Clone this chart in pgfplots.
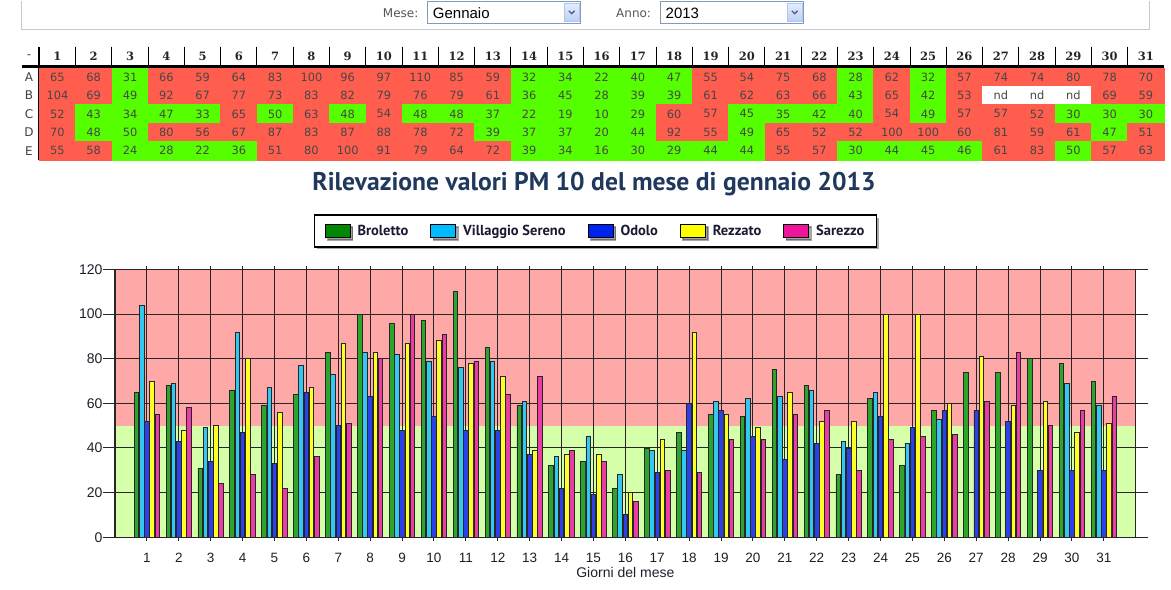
\documentclass[border=0pt]{standalone}
\usepackage{pgfplots}
\pgfplotsset{compat=1.18}
\usepackage{pgfplotstable}
\usepackage{fontspec}
\usetikzlibrary{shadows}
\setmainfont{DejaVu Sans}
\newfontfamily\libsans{Liberation Sans}
\newfontfamily\ptsans{PT Sans}
\newfontfamily\dvserif{DejaVu Serif}
\newcommand{\myfs}[1]{\fontsize{#1}{#1}\selectfont}

\definecolor{cellred}{RGB}{255,94,79}
\definecolor{cellgreen}{RGB}{85,255,0}
\definecolor{celltext}{RGB}{70,70,70}
\definecolor{zonered}{RGB}{255,168,168}
\definecolor{zonegreen}{RGB}{214,255,170}
\definecolor{barG}{RGB}{45,165,45}
\definecolor{barC}{RGB}{50,200,240}
\definecolor{barB}{RGB}{45,65,235}
\definecolor{barY}{RGB}{255,255,40}
\definecolor{barP}{RGB}{235,60,165}
\definecolor{legG}{RGB}{0,136,0}
\definecolor{legC}{RGB}{0,187,255}
\definecolor{legB}{RGB}{0,34,238}
\definecolor{legY}{RGB}{255,255,0}
\definecolor{legP}{RGB}{238,20,155}
\definecolor{titlecol}{RGB}{31,56,92}
\definecolor{legtext}{RGB}{25,25,50}
\definecolor{ticktext}{RGB}{30,30,45}
\definecolor{uigray}{RGB}{85,85,85}
\definecolor{ddborder}{RGB}{127,157,185}
\definecolor{btntop}{RGB}{228,237,255}
\definecolor{btnbot}{RGB}{188,207,245}
\definecolor{btnborder}{RGB}{178,198,235}
\definecolor{chev}{RGB}{77,97,133}
\definecolor{boxgray}{RGB}{200,200,200}

\pgfplotstableread{
d A B C D E cA cB cC cD cE
1 65 104 52 70 55 r r r r r
2 68 69 43 48 58 r r g g r
3 31 49 34 50 24 g g g g g
4 66 92 47 80 28 r r g r g
5 59 67 33 56 22 r r g r g
6 64 77 65 67 36 r r r r g
7 83 73 50 87 51 r r g r r
8 100 83 63 83 80 r r r r r
9 96 82 48 87 100 r r g r r
10 97 79 54 88 91 r r r r r
11 110 76 48 78 79 r r g r r
12 85 79 48 72 64 r r g r r
13 59 61 37 39 72 r r g g r
14 32 36 22 37 39 g g g g g
15 34 45 19 37 34 g g g g g
16 22 28 10 20 16 g g g g g
17 40 39 29 44 30 g g g g g
18 47 39 60 92 29 g g r r g
19 55 61 57 55 44 r r r r g
20 54 62 45 49 44 r r g g g
21 75 63 35 65 55 r r g r r
22 68 66 42 52 57 r r g r r
23 28 43 40 52 30 g g g r g
24 62 65 54 100 44 r r r r g
25 32 42 49 100 45 g g g r g
26 57 53 57 60 46 r r r r g
27 74 nan 57 81 61 r w r r r
28 74 nan 52 59 83 r w r r r
29 80 nan 30 61 50 r w g r g
30 78 69 30 47 57 r r g g r
31 70 59 30 51 63 r r g r r
}\pmdata

\newcommand{\cellrow}[2]{%
  \addplot[scatter, only marks, on layer=axis background, scatter src=explicit symbolic,
    mark size=9.25bp, mark options={xscale=1.975},
    scatter/classes={r={mark=square*, cellred}, g={mark=square*, cellgreen}, w={mark=square*, white}}]
    table[x=d, y expr=#2, meta=c#1] {\pmdata};
}
\pgfplotsset{celltxt/.style={only marks, mark=none, point meta=explicit symbolic, nodes near coords,
    every node near coord/.append style={anchor=center, inner sep=0pt, font=\myfs{11.4bp}, text=celltext}}}

\begin{document}
\begin{tikzpicture}
\path (0,0) rectangle (1171bp,-589bp);
% ---------- top selector bar ----------
\begin{scope}[x=1bp, y=1bp]
\draw[boxgray, line width=1bp] (21.5,0) -- (21.5,-29.3) -- (1149.5,-29.3) -- (1149.5,0);
\node[anchor=base west, inner sep=0pt, font=\myfs{12bp}, text=uigray] at (382.7,-17.3) {Mese:};
\draw[ddborder, fill=white, line width=1bp] (427.5,-1.5) rectangle (580.5,-22.5);
\shadedraw[top color=btntop, bottom color=btnbot, draw=btnborder, line width=0.8bp] (564.5,-2.7) rectangle (579,-21.2);
\draw[chev, line width=1.4bp] (568.8,-10.3) -- (571.7,-13.2) -- (574.6,-10.3);
\node[anchor=base west, inner sep=0pt, font=\libsans\myfs{15bp}] at (432.7,-17.5) {Gennaio};
\node[anchor=base west, inner sep=0pt, font=\myfs{12bp}, text=uigray] at (616,-17.3) {Anno:};
\draw[ddborder, fill=white, line width=1bp] (660.5,-1.5) rectangle (803.5,-22.5);
\shadedraw[top color=btntop, bottom color=btnbot, draw=btnborder, line width=0.8bp] (787.5,-2.7) rectangle (802,-21.2);
\draw[chev, line width=1.4bp] (791.8,-10.3) -- (794.7,-13.2) -- (797.6,-10.3);
\node[anchor=base west, inner sep=0pt, font=\libsans\myfs{15bp}] at (665.5,-17.5) {2013};
\end{scope}

% ---------- data table ----------
\begin{axis}[
  at={(22bp,-46bp)}, anchor=north west,
  scale only axis, width=1142bp, height=113.3bp,
  xmin=0.023, xmax=31.5, ymin=-0.673, ymax=5.5, y dir=reverse,
  set layers, clip=false,
  axis line style={draw=none},
  tick style={draw=none},
  xtick={1.5,2.5,...,30.5}, xticklabels={},
  ytick=\empty,
  xmajorgrids, major grid style={black, line width=1bp},
  extra x ticks={0.5}, extra x tick labels={},
  extra x tick style={grid=major, major grid style={black, line width=2.2bp}},
  extra y ticks={0.42}, extra y tick labels={},
  extra y tick style={grid=major, major grid style={black, line width=2.2bp}},
]
\cellrow{A}{1}
\cellrow{B}{2}
\cellrow{C}{3}
\cellrow{D}{4}
\cellrow{E}{5}
\addplot[celltxt] table[x=d, y expr=1, meta=A] {\pmdata};
\addplot[celltxt, skip coords between index={26}{29}] table[x=d, y expr=2, meta=B] {\pmdata};
\addplot[celltxt] table[x=d, y expr=3, meta=C] {\pmdata};
\addplot[celltxt] table[x=d, y expr=4, meta=D] {\pmdata};
\addplot[celltxt] table[x=d, y expr=5, meta=E] {\pmdata};
\addplot[celltxt] coordinates {(27,2) [nd] (28,2) [nd] (29,2) [nd]};
\addplot[celltxt, every node near coord/.append style={font=\dvserif\bfseries\myfs{11.5bp}, text=black!85}]
  table[x=d, y expr=-0.14, meta=d] {\pmdata};
\addplot[celltxt, every node near coord/.append style={font=\myfs{12bp}, text=black!75}]
  coordinates {(0.216,-0.14) [-] (0.216,1) [A] (0.216,2) [B] (0.216,3) [C] (0.216,4) [D] (0.216,5) [E]};
\end{axis}

% ---------- bar chart ----------
\begin{axis}[
  at={(115bp,-269bp)}, anchor=north west,
  scale only axis, width=1020.7bp, height=267.7bp,
  set layers,
  xmin=0, xmax=32, ymin=0, ymax=120,
  xtick={1,...,31}, ytick={0,20,...,120},
  xmajorgrids, ymajorgrids,
  major grid style={draw=black!85, line width=1bp},
  axis line style={draw=black!85, line width=1.2bp},
  tick align=outside,
  major tick length=12bp,
  xtick style={draw=black!85, line width=1bp, /pgfplots/major tick length=4bp},
  ytick style={draw=black!85, line width=1bp},
  /pgf/number format/assume math mode=true,
  ticklabel style={font=\libsans\myfs{14bp}, text=ticktext},
  yticklabel style={xshift=3bp},
  xticklabel style={font=\libsans\myfs{13.5bp}},
  xlabel={Giorni del mese},
  xlabel style={at={(axis description cs:0.5,-0.1307)}, anchor=center, font=\libsans\myfs{14bp}, text=ticktext},
  title={Rilevazione valori PM 10 del mese di gennaio 2013},
  title style={at={(axis description cs:0.4693,1.2724)}, anchor=base, yshift=0pt, font=\ptsans\bfseries\myfs{25.6bp}, text=titlecol},
  legend columns=5,
  legend image code/.code={\draw[line width=0.9bp,#1] (0bp,-6.5bp) rectangle (25bp,6.5bp);},
  legend style={at={(0.4708,1.1437)}, anchor=center, draw=black, line width=1.4bp, fill=white,
    font=\ptsans\bfseries\myfs{14.5bp}, text=legtext, inner xsep=10bp, inner ysep=8bp,
    /tikz/every odd column/.append style={column sep=5bp},
    /tikz/every even column/.append style={column sep=20bp},
    drop shadow={shadow xshift=2.5bp, shadow yshift=-2.5bp, fill=black, opacity=0.35}},
  legend cell align=left,
]
\addplot[on layer=axis background, fill=zonegreen, draw=none, forget plot] coordinates {(0,0) (32,0) (32,50) (0,50)};
\addplot[on layer=axis background, fill=zonered, draw=none, forget plot] coordinates {(0,50) (32,50) (32,120) (0,120)};
\addplot[ybar, bar width=4.6bp, bar shift=-10.4bp, fill=barG, draw=black!85, line width=0.8bp, forget plot] table[x=d, y=A] {\pmdata};
\addplot[ybar, bar width=4.6bp, bar shift=-5.2bp, fill=barC, draw=black!85, line width=0.8bp, forget plot] table[x=d, y=B] {\pmdata};
\addplot[ybar, bar width=4.6bp, bar shift=0bp, fill=barB, draw=black!85, line width=0.8bp, forget plot] table[x=d, y=C] {\pmdata};
\addplot[ybar, bar width=4.6bp, bar shift=5.2bp, fill=barY, draw=black!85, line width=0.8bp, forget plot] table[x=d, y=D] {\pmdata};
\addplot[ybar, bar width=4.6bp, bar shift=10.4bp, fill=barP, draw=black!85, line width=0.8bp, forget plot] table[x=d, y=E] {\pmdata};
\addlegendimage{fill=legG, draw=black}
\addlegendentry{Broletto}
\addlegendimage{fill=legC, draw=black}
\addlegendentry{Villaggio Sereno}
\addlegendimage{fill=legB, draw=black}
\addlegendentry{Odolo}
\addlegendimage{fill=legY, draw=black}
\addlegendentry{Rezzato}
\addlegendimage{fill=legP, draw=black}
\addlegendentry{Sarezzo}
\end{axis}
\end{tikzpicture}
\end{document}
